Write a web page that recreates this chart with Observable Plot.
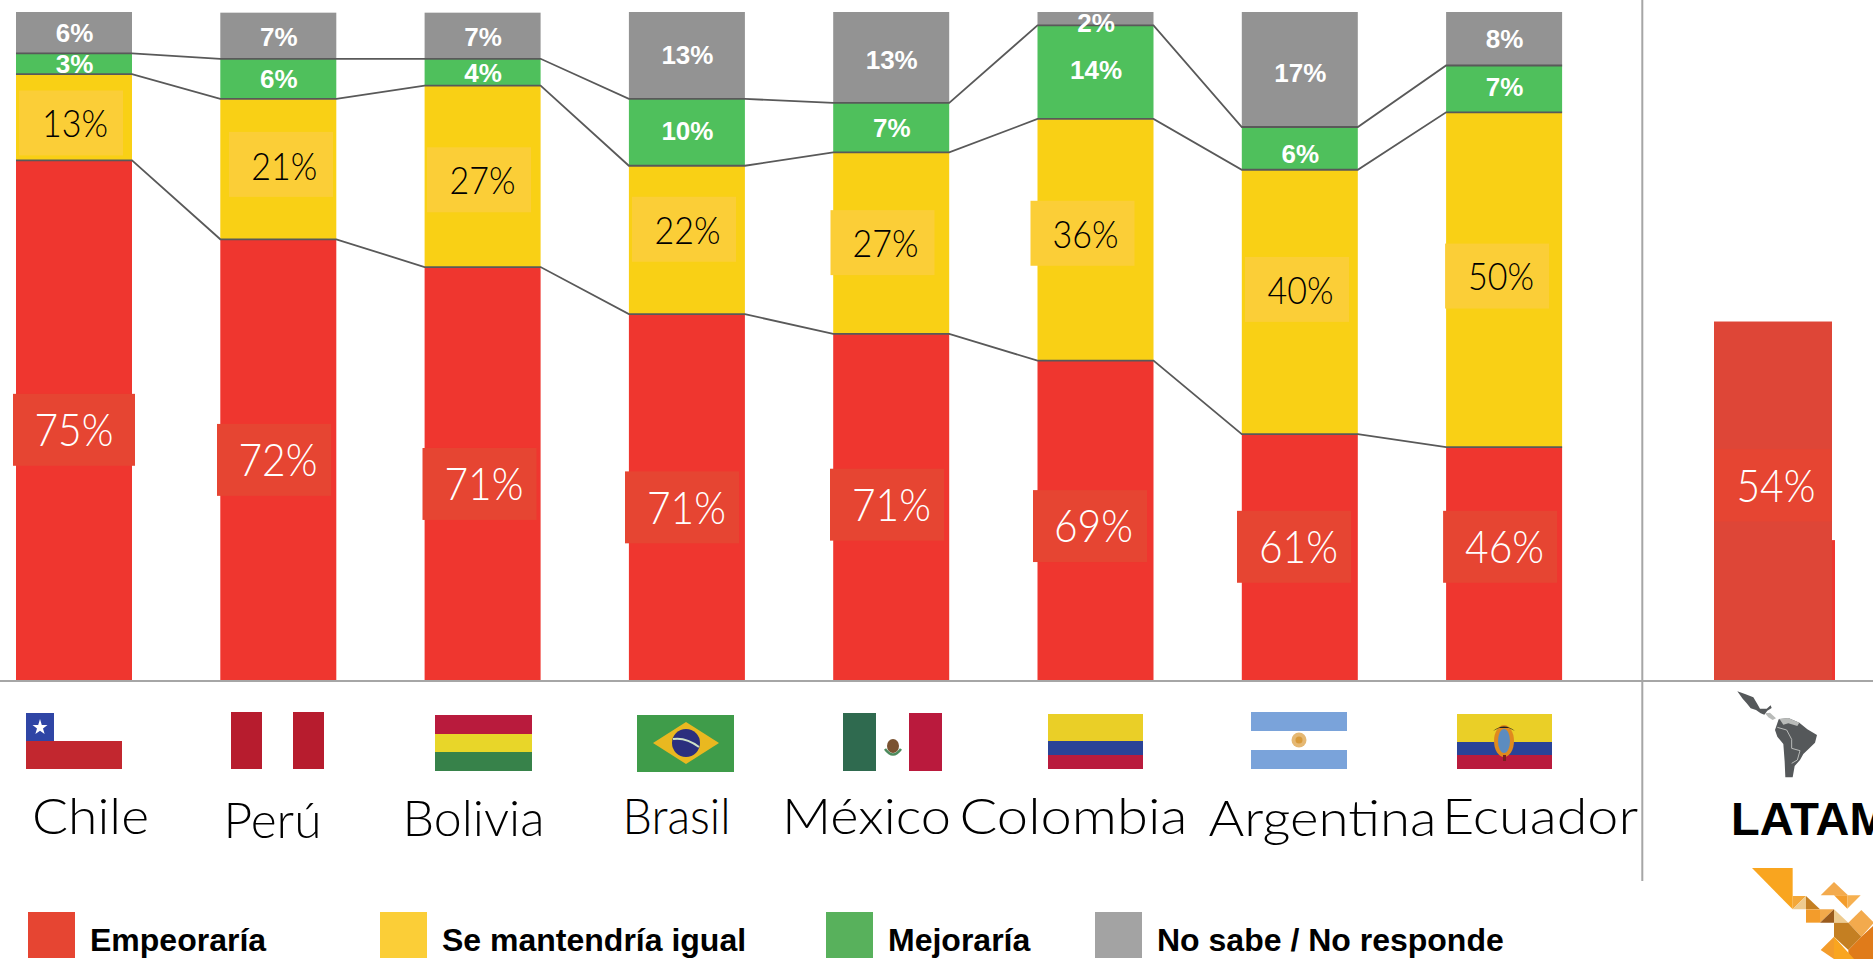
<!DOCTYPE html>
<html lang="es">
<head>
<meta charset="utf-8">
<script src="https://cdn.jsdelivr.net/npm/d3@7"></script>
<script src="https://cdn.jsdelivr.net/npm/@observablehq/plot@0.6"></script>
<style>
  html,body{margin:0;padding:0;background:#fff;overflow:hidden;width:1873px;height:959px}
  #stage{position:relative;width:1873px;height:959px;overflow:hidden}
  #stage svg{position:absolute;left:0;top:0}
  .legend-item{position:absolute;top:912px;height:46px;display:flex;align-items:center;font:bold 32px "Liberation Sans",Arial,sans-serif;color:#000;white-space:nowrap}
  .legend-item i{display:block;width:47px;height:46px;margin-right:15px}
  .legend-item span{position:relative;top:5px}
</style>
</head>
<body>
<div id="stage"></div>
<script>
// ---- data ----
const countries = ["Chile","Perú","Bolivia","Brasil","México","Colombia","Argentina","Ecuador"];
const regionLabel = "LATAM";
const seriesNames = ["Empeoraría","Se mantendría igual","Mejoraría","No sabe / No responde"];
const seriesColors = ["#EF362F","#F9D015","#4FC05C","#939393"];
// segment heights as drawn
const empeoraria = [77.8,66,61.85,54.8,51.85,47.85,36.85,34.9];
const seMantendria = [12.9,21,27.15,22.2,27.15,36.15,39.55,50.1];
const mejoraria = [3.1,6,4,10,7.4,14,6.4,7];
const noSabe = [6.2,6.9,6.9,13,13.6,2,17.2,8];
const regionValue = 53.7;
// printed labels
const empeorariaLabels = [75,72,71,71,71,69,61,46];
const seMantendriaLabels = [13,21,27,22,27,36,40,50];
const mejorariaLabels = [3,6,4,10,7,14,6,7];
const noSabeLabels = [6,7,7,13,13,2,17,8];
const regionLabelValue = 54;

// ---- label layout (y in chart units, offsets in px) ----
const redY = [37.5,33.0,29.4,25.9,26.3,23.1,20,20];
const redBoxDx = [0,-4.3,-3.1,-4.9,-4.2,-5.5,-5.8,-4];
const redTextDx = [-.5,-.8,.8,-.9,-.2,-2.5,-1.8,0];
const yellowY = [83.4,77.2,74.9,67.5,65.5,66.9,58.5,60.5];
const yellowTextY = [83.4,76.9,74.9,67.4,65.4,66.8,58.4,60.5];
const yellowBoxDx = [-3,2.7,-3.6,-2.9,-8.7,-13,-2.8,-7];
const yellowTextDx = [.5,5.4,-.6,.1,-6.2,-10.5,.2,-3.5];
const greyY = [96.8,96.3,96.3,93.5,92.8,98.4,90.9,96];
const greenY = [92.2,90,90.9,82.2,82.6,91.3,78.8,88.7];
const countryDx = [16,-6.3,-9.6,-10.9,-25.2,-22.5,22.2,35.5];
const countryY = [-20.5,-21.2,-20.9,-20.5,-20.5,-20.5,-20.8,-20.5];
const countryWidths = [117,98,142,108,169,228,228,196];
const legendX = [28,380,826,1095];

const CENTURY = "Lato, 'Open Sans', sans-serif";
const ARIAL = "'Liberation Sans', Arial, sans-serif";
const regionDx = 63.6;

const rows = seriesNames.flatMap((s,k) => countries.map((c,i) => ({
  country:c, series:s, value:[empeoraria,seMantendria,mejoraria,noSabe][k][i]
})));

// boundaries between segments, for the connector lines
const boundaries = [
  empeoraria,
  empeoraria.map((d,i)=>d+seMantendria[i]),
  empeoraria.map((d,i)=>d+seMantendria[i]+mejoraria[i])
];

function connectors(index, scales){
  const g = d3.create("svg:g").attr("fill","none").attr("stroke","#595959").attr("stroke-width",1.8);
  const bw = scales.x.bandwidth();
  for (const b of boundaries){
    const pts = countries.flatMap((c,i)=>[[scales.x(c),scales.y(b[i])],[scales.x(c)+bw,scales.y(b[i])]]);
    g.append("path").attr("d",d3.line()(pts));
  }
  return g.node();
}

const boxes = (ys, dxs, fill, half, inset) => countries.map((c,i)=>
  Plot.barY([c],{x:d=>d,y1:ys[i]-half,y2:ys[i]+half,dx:dxs[i],fill,insetLeft:inset[i],insetRight:inset[i]}));
const thinTexts = (labels, ys, dxs, fill, size, weight, className) => countries.map((c,i)=>
  Plot.text([c],{x:d=>d,y:ys[i],dx:dxs[i],dy:1.5,text:()=>labels[i]+"%",fill,fontSize:size,fontFamily:CENTURY,fontWeight:weight,lineAnchor:"middle",className}));
const boldTexts = (labels, ys) => countries.map((c,i)=>
  Plot.text([c],{x:d=>d,y:ys[i],text:()=>labels[i]+"%",fill:"#fff",fontSize:26,fontFamily:ARIAL,fontWeight:700,lineAnchor:"middle"}));

const plot = Plot.plot({
  width:1873, height:959,
  marginTop:12, marginBottom:278.5, marginLeft:0, marginRight:0,
  style:{background:"transparent",overflow:"hidden"},
  x:{type:"band",domain:[...countries,regionLabel],range:[16,1766.4],paddingInner:.4322,paddingOuter:0,align:0,round:false,axis:null},
  y:{domain:[0,100],axis:null},
  color:{domain:seriesNames,range:seriesColors,legend:false},
  marks:[
    Plot.barY(rows,{x:"country",y:"value",fill:"series",order:seriesNames}),
    Plot.barY([regionLabel],{x:d=>d,y:()=>21,fill:"#EF362F",dx:regionDx,insetRight:-5}),
    Plot.barY([regionLabel],{x:d=>d,y:()=>regionValue,fill:"#DE4637",dx:regionDx,insetRight:-2}),
    Plot.barY([regionLabel],{x:d=>d,y1:()=>29.2-5.4,y2:()=>29.2+5.4,fill:"#E64532",dx:regionDx,insetRight:-2}),
    connectors,
    Plot.ruleY([0],{stroke:"#A6A6A6",strokeWidth:2}),
    Plot.ruleX([regionLabel],{x:d=>d,y1:-30,y2:102,dx:-66.6,stroke:"#A6A6A6",strokeWidth:2}),
    boxes(yellowY,yellowBoxDx,"#FBCE37",4.86,countries.map(()=>6)),
    boxes(redY,redBoxDx,"#E64532",5.38,countries.map((c,i)=>i===0?-3:1)),
    boldTexts(noSabeLabels,greyY),
    boldTexts(mejorariaLabels,greenY),
    thinTexts(seMantendriaLabels,yellowTextY,yellowTextDx,"#000",37,300,"pct-y"),
    thinTexts(empeorariaLabels,redY,redTextDx,"#fff",45,300,"pct-r"),
    Plot.text([regionLabel],{x:d=>d,y:()=>29.1,dx:67.1,dy:1.5,text:()=>regionLabelValue+"%",fill:"#fff",fontSize:45,fontFamily:CENTURY,fontWeight:300,lineAnchor:"middle",className:"pct-r"}),
    countries.map((c,i)=>Plot.text([c],{x:d=>d,y:countryY[i],dx:countryDx[i],text:d=>d,fill:"#000",fontSize:49,fontFamily:CENTURY,fontWeight:300,lineAnchor:"middle",className:"country"})),
    Plot.text([regionLabel],{x:d=>d,y:-20.8,dx:22.2,text:d=>d,textAnchor:"start",fill:"#000",fontSize:47,fontFamily:ARIAL,fontWeight:700,lineAnchor:"middle"})
  ]
});

const stage = document.getElementById("stage");
stage.appendChild(plot);
const fit=(sel,w)=>plot.querySelectorAll(sel).forEach((t,i)=>{t.setAttribute("textLength",typeof w==="number"?w:w[i]);t.setAttribute("lengthAdjust","spacingAndGlyphs");});
fit(".country text",countryWidths);
fit(".pct-y text",66);
fit(".pct-r text",79);

// ---- legend ----
const legendColors = ["#E64532","#FBCE37","#58B15C","#A3A3A3"];
seriesNames.forEach((s,i)=>{
  const el=document.createElement("div");
  el.className="legend-item";
  el.style.left=legendX[i]+"px";
  el.innerHTML=`<i style="background:${legendColors[i]}"></i><span>${s}</span>`;
  stage.appendChild(el);
});

// ---- flags, map, logo (decoration) ----
const R=(x,y,w,h,c)=>`<rect x="${x}" y="${y}" width="${w}" height="${h}" fill="${c}"/>`;
const P=(pts,c)=>`<polygon points="${pts}" fill="${c}"/>`;
const Z=(pts,c)=>P(pts.map(([x,y])=>`${1720+x/3},${680+y/3}`).join(" "),c);
const flags=
  // Chile
  R(26,713,28,28,"#2F45A5")+R(26,741,96,28,"#C2272F")+
  `<polygon points="40,719 41.8,725 47.5,725 43,728.5 44.6,734 40,730.8 35.4,734 37,728.5 32.5,725 38.2,725" fill="#fff"/>`+
  // Peru
  R(231,712,31,57,"#B71C2E")+R(293,712,31,57,"#B71C2E")+
  // Bolivia
  R(435,715,97,19,"#B91B3D")+R(435,734,97,18,"#E8D629")+R(435,752,97,19,"#37824A")+
  // Brasil
  R(637,715,97,57,"#3F9C4A")+P("686,722 719,743 686,764 653,743","#E9B820")+
  `<circle cx="686" cy="743" r="14" fill="#2B2F7E"/><path d="M673,739 Q686,737 699,747" stroke="#cfe3c8" stroke-width="2" fill="none"/>`+
  // Mexico
  R(843,713,33,58,"#2F6A4F")+R(909,713,33,58,"#BA1A3D")+
  `<ellipse cx="893" cy="746" rx="6" ry="7" fill="#7A5230"/><path d="M885,749 Q893,760 901,749" stroke="#4C8A5C" stroke-width="2.5" fill="none"/>`+
  // Colombia
  R(1048,714,95,27,"#EACF27")+R(1048,741,95,14,"#2A4397")+R(1048,755,95,14,"#B91B3D")+
  // Argentina
  R(1251,712,96,19,"#7AA3DA")+R(1251,750,96,19,"#7AA3DA")+
  `<circle cx="1299" cy="740" r="7.5" fill="#E5B873"/><circle cx="1299" cy="740" r="3.5" fill="#D89A3B"/>`+
  // Ecuador
  R(1457,714,95,28,"#EACF27")+R(1457,742,95,13,"#2A4397")+R(1457,755,95,14,"#B91B3D")+
  `<ellipse cx="1504" cy="741" rx="10" ry="16" fill="#E08A1E"/><ellipse cx="1504" cy="741" rx="6" ry="12" fill="#5C8CC0"/>`+
  `<path d="M1493,731 Q1504,722 1515,731 L1509,728 L1499,728Z" fill="#222"/><rect x="1503" y="755" width="3" height="6" fill="#7A2020"/>`;

const D="#55585A", L="#B9BBB9";
const map=
  Z([[52,34],[75,42],[100,52],[112,72],[120,86],[140,86],[152,76],[155,84],[142,92],[133,104],[122,100],[108,90],[92,85],[80,70],[68,56]],D)+
  Z([[135,100],[150,98],[168,115],[158,120],[145,112]],L)+
  Z([[165,150],[176,118],[205,114],[238,128],[262,148],[291,165],[285,188],[268,205],[250,222],[240,240],[224,258],[218,292],[196,292],[194,245],[190,192],[172,170]],D)+
  `<path d="M${[[172,142],[200,150],[215,178],[215,205],[240,212],[232,240],[215,250]].map(([x,y])=>`${1720+x/3},${680+y/3}`).join(" L")}" fill="none" stroke="${L}" stroke-width="1"/>`+
  Z([[178,116],[205,114],[238,128],[232,138],[205,130],[190,134]],L);

const logo=
  Z([[96,564],[218,564],[218,688]],"#F9A51F")+Z([[218,648],[258,648],[218,688]],"#F3A83A")+
  Z([[218,688],[258,648],[258,688]],"#EECB8F")+Z([[258,648],[300,688],[258,688]],"#C47F22")+
  Z([[258,688],[300,688],[300,728],[258,728]],"#F39C2B")+Z([[300,688],[342,688],[300,728]],"#F2A94B")+
  Z([[342,688],[342,728],[300,728]],"#9A5B1C")+Z([[342,688],[385,728],[342,728]],"#EECB8F")+
  Z([[302,646],[342,606],[384,646]],"#F3AA4D")+Z([[342,646],[382,646],[382,686]],"#F39C2B")+
  Z([[382,646],[422,646],[382,686]],"#F6B050")+Z([[385,728],[424,690],[462,728],[424,770]],"#F3AA4D")+
  Z([[342,728],[385,728],[424,770],[385,810],[342,770]],"#C47F22")+
  Z([[424,770],[462,735],[462,837],[385,837],[385,810]],"#E07B1A")+
  Z([[302,810],[342,770],[342,837]],"#F39C2B")+Z([[342,770],[402,837],[342,837]],"#F9A51F");

const deco=document.createElementNS("http://www.w3.org/2000/svg","svg");
deco.setAttribute("width",1873);deco.setAttribute("height",959);
deco.innerHTML=flags+map+logo;
stage.appendChild(deco);
</script>
</body>
</html>
